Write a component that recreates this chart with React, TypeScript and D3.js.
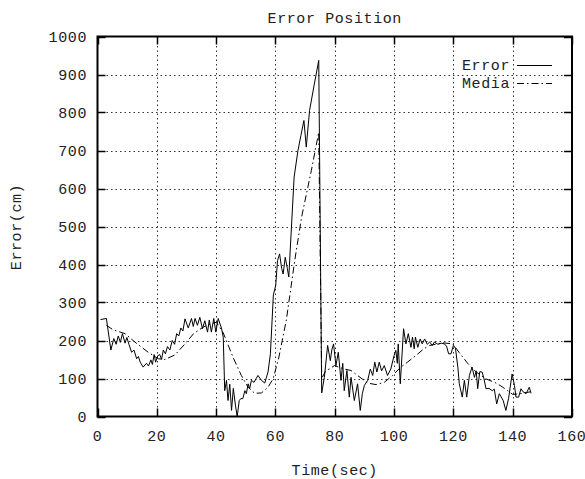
import React, { useEffect, useRef } from "react";
import * as d3 from "d3";

// --- Data
const errorTime = [
  1, 3, 4.5, 5.5, 6.3, 7, 7.7, 8.4, 9.3, 9.9, 10.6, 11.5, 12.3, 13.2, 13.8, 14.4, 15.4, 16.5, 17.2, 18,
  18.5, 19.1, 19.6, 20.3, 21, 21.6, 22.2, 22.9, 23.6, 24.4, 25.2, 26, 26.7, 27.4, 28.1, 28.8, 29.5, 30.6,
  31.7, 32.3, 32.9, 33.7, 34.5, 35.4, 36.2, 37.1, 37.7, 38.4, 39.2, 39.9, 40.7, 41.2, 41.8, 42.4, 42.9,
  43.5, 44, 44.6, 45.2, 45.8, 46.5, 47.1, 47.8, 48.3, 49, 49.7, 50.2, 50.8, 51.3, 51.9, 52.8, 53.5, 54.1,
  55.3, 56.4, 57.5, 58.3, 59.3, 60.1, 60.7, 61.4, 62.1, 62.6, 63.3, 64, 64.5, 65.4, 66.3, 67.6, 68.6,
  69.6, 70.4, 71.5, 73, 74.6, 75.6, 76.5, 77.6, 78.5, 79, 79.6, 80.4, 81.2, 82.1, 82.7, 83.2, 84.1, 84.9,
  85.5, 86.6, 87.7, 88.6, 89.3, 90, 91.1, 92, 92.8, 93.5, 94.2, 95, 95.8, 96.7, 97.8, 98.9, 100, 100.6,
  101.1, 101.4, 102.1, 103.2, 104, 104.8, 105.7, 106.2, 106.8, 107.2, 108, 108.8, 109.5, 110.3, 111.2,
  112, 112.9, 113.6, 114.8, 115.9, 117, 117.7, 118.4, 119.2, 120, 120.7, 121.5, 122, 123, 123.7, 124.5,
  125.4, 126.3, 127.1, 127.7, 128.2, 128.9, 129.7, 130.3, 131, 132, 133.1, 133.8, 134.6, 135.5, 136.8,
  137.7, 138.6, 139.8, 140.6, 141.1, 142, 142.8, 143.5, 144.5, 145.6, 146.2,
];
const errorValue = [
  255, 258, 175, 205, 190, 212, 195, 218, 193, 208, 190, 169, 175, 152, 158, 143, 130, 140, 133, 149,
  137, 163, 143, 160, 163, 150, 175, 165, 184, 175, 200, 190, 218, 212, 233, 225, 257, 233,
  258, 237, 258, 240, 261, 231, 252, 222, 254, 222, 258, 222, 258, 246, 233, 209, 68,
  95, 42, 85, 16, 74, 30, 0, 42, 47, 47, 68, 60, 86, 73, 95, 90, 100, 108,
  95, 88, 117, 165, 320, 345, 410, 428, 390, 375, 419, 390, 367, 498, 630, 700, 740,
  779, 709, 805, 870, 937, 62, 103, 187, 147, 175, 191, 134, 169, 95, 140, 68, 121, 51,
  103, 42, 86, 16, 60, 82, 95, 125, 108, 143, 117, 143, 120, 134, 108, 125, 160, 174,
  140, 191, 86, 231, 191, 218, 182, 209, 178, 209, 182, 204, 191, 204, 190,
  196, 187, 196, 190, 193, 191, 185, 165, 165, 187, 180, 130, 86, 51, 95, 51,
  108, 130, 103, 120, 73, 118, 117, 100, 73, 74, 68, 72, 33, 60, 42,
  16, 47, 112, 82, 51, 51, 73, 65, 60, 77, 61,
];

const mediaTime = [
  3, 5.3, 9.3, 12.6, 17.1, 20.5, 22.7, 26.1, 29.5, 32.4, 35.6, 38, 40.1, 42.4, 45.7, 48.5, 50.8, 53,
  55.3, 57.5, 59.2, 61, 63.7, 66.5, 68.8, 72.1, 74.6, 75.6, 77, 78.2, 79.9, 83.2, 85.5, 87.7, 91.1,
  93.9, 96.7, 99.5, 102.3, 104.5, 107.3, 110, 112, 116.4, 119.8, 122, 124.8, 127.7, 131, 134.4, 136.5,
  138.3, 140, 142.4, 146,
];
const mediaValue = [
  240, 228, 218, 196, 169, 152, 150, 162, 191, 218, 235, 244, 248, 220, 156, 108, 77, 61,
  62, 77, 99, 150, 255, 410, 524, 647, 748, 100, 121, 125, 134, 125, 121, 108, 88,
  84, 90, 108, 130, 143, 160, 178, 187, 194, 191, 168, 140, 117, 99, 88, 78,
  68, 58, 60, 65,
];

const xTicks = [0, 20, 40, 60, 80, 100, 120, 140, 160];
const yTicks = [0, 100, 200, 300, 400, 500, 600, 700, 800, 900, 1000];

const FONT = "'Liberation Mono', 'DejaVu Sans Mono', monospace";

const ErrorChart: React.FC<{ width?: number; height?: number }> = ({ width = 585, height = 479 }) => {
  const ref = useRef<SVGSVGElement | null>(null);

  useEffect(() => {
    if (!ref.current) return;
    const root = d3.select(ref.current);
    root.selectAll("*").remove();
    root.attr("width", width).attr("height", height);

    // plot frame
    const left = 97.5, right = 572, top = 36.5, bottom = 416.5;
    const x = d3.scaleLinear().domain([0, 160]).range([left, right]);
    const y = d3.scaleLinear().domain([0, 1000]).range([bottom, top]);
    const cx = (left + right) / 2;

    root.append("rect").attr("width", width).attr("height", height).attr("fill", "white");

    // grid
    const grid = root.append("g").attr("stroke", "#333").attr("stroke-width", 1).attr("stroke-dasharray", "1.5,3");
    grid
      .selectAll("line.gx")
      .data(xTicks.slice(1, -1))
      .join("line")
      .attr("x1", (d) => Math.round(x(d)) + 0.5)
      .attr("x2", (d) => Math.round(x(d)) + 0.5)
      .attr("y1", bottom)
      .attr("y2", top);
    grid
      .selectAll("line.gy")
      .data(yTicks.slice(1, -1))
      .join("line")
      .attr("class", "gy")
      .attr("x1", left)
      .attr("x2", right)
      .attr("y1", (d) => Math.round(y(d)) + 0.5)
      .attr("y2", (d) => Math.round(y(d)) + 0.5);

    // ticks (inward, mirrored)
    const tk = root.append("g").attr("stroke", "#000").attr("stroke-width", 1.5);
    const tl = 8;
    xTicks.forEach((d) => {
      const px = Math.round(x(d)) + 0.5;
      tk.append("line").attr("x1", px).attr("x2", px).attr("y1", bottom).attr("y2", bottom - tl);
      tk.append("line").attr("x1", px).attr("x2", px).attr("y1", top).attr("y2", top + tl);
    });
    yTicks.forEach((d) => {
      const py = Math.round(y(d)) + 0.5;
      tk.append("line").attr("x1", left).attr("x2", left + tl).attr("y1", py).attr("y2", py);
      tk.append("line").attr("x1", right).attr("x2", right - tl).attr("y1", py).attr("y2", py);
    });

    // border
    root
      .append("rect")
      .attr("x", left)
      .attr("y", top)
      .attr("width", right - left)
      .attr("height", bottom - top)
      .attr("fill", "none")
      .attr("stroke", "#000")
      .attr("stroke-width", 2);

    // tick labels
    const lab = root
      .append("g")
      .style("font-family", FONT)
      .style("font-size", "15px")
      .style("letter-spacing", "0.6px")
      .attr("fill", "#222");
    lab
      .selectAll("text.xl")
      .data(xTicks)
      .join("text")
      .attr("class", "xl")
      .attr("x", (d) => x(d))
      .attr("y", 441)
      .attr("text-anchor", "middle")
      .text((d) => d);
    lab
      .selectAll("text.yl")
      .data(yTicks)
      .join("text")
      .attr("class", "yl")
      .attr("x", 87)
      .attr("y", (d) => y(d) + 5)
      .attr("text-anchor", "end")
      .text((d) => d);

    // titles
    lab.append("text").attr("x", cx).attr("y", 23).attr("text-anchor", "middle").text("Error Position");
    lab.append("text").attr("x", cx).attr("y", 475).attr("text-anchor", "middle").text("Time(sec)");
    lab
      .append("text")
      .attr("transform", "translate(21,227) rotate(-90)")
      .attr("text-anchor", "middle")
      .text("Error(cm)");

    // series
    const line = d3
      .line<[number, number]>()
      .x((d) => x(d[0]))
      .y((d) => y(d[1]));
    const errPts = errorTime.map((t, i) => [t, errorValue[i]] as [number, number]);
    const medPts = mediaTime.map((t, i) => [t, mediaValue[i]] as [number, number]);

    root
      .append("path")
      .attr("d", line(medPts))
      .attr("fill", "none")
      .attr("stroke", "#000")
      .attr("stroke-width", 1)
      .attr("stroke-dasharray", "7,3,1.5,3");
    root
      .append("path")
      .attr("d", line(errPts))
      .attr("fill", "none")
      .attr("stroke", "#000")
      .attr("stroke-width", 1);

    // legend
    const legend = [
      { label: "Error", dash: null as string | null, yy: 65 },
      { label: "Media", dash: "7,3,1.5,3", yy: 83 },
    ];
    legend.forEach((l) => {
      lab.append("text").attr("x", 510).attr("y", l.yy + 5).attr("text-anchor", "end").text(l.label);
      root
        .append("line")
        .attr("x1", 517)
        .attr("x2", 552)
        .attr("y1", l.yy + 0.5)
        .attr("y2", l.yy + 0.5)
        .attr("stroke", "#000")
        .attr("stroke-width", 1)
        .attr("stroke-dasharray", l.dash ?? null);
    });

    return () => {
      d3.select(ref.current).selectAll("*").remove();
    };
  }, [width, height]);

  return <svg ref={ref} style={{ position: "absolute", left: 0, top: 0 }}></svg>;
};

export default function App() {
  return <ErrorChart />;
}
